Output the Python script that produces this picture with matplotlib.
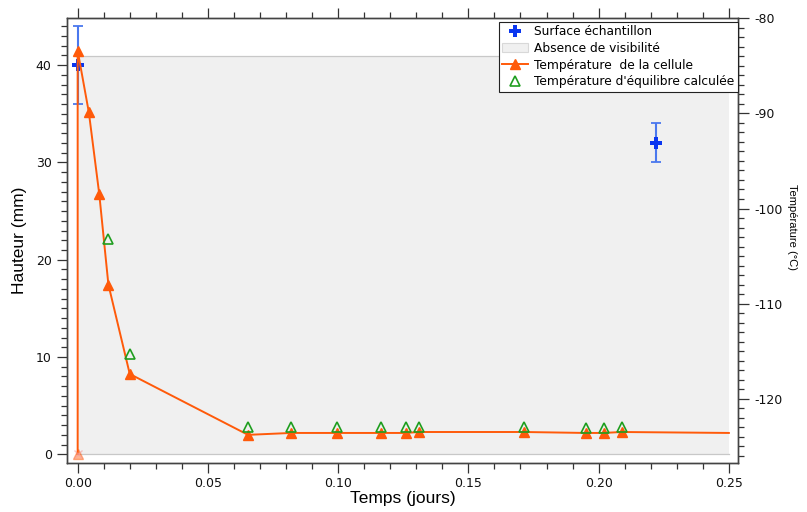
import matplotlib.pyplot as plt
from matplotlib.lines import Line2D
from matplotlib.patches import Patch
from matplotlib.ticker import MultipleLocator

plt.rcParams['font.family'] = ['DejaVu Sans']
plt.rcParams['axes.unicode_minus'] = False

# --- data ---
# sample surface height (mm) with error bars
surf_t = [0.0, 0.2222]
surf_h = [40.0, 32.0]
surf_err = [4.0, 2.0]

# zone without visibility (mm)
vis_t = [0.0, 0.25]
vis_top = [40.9, 40.9]

# cell temperature (degC)
cell_t = [0.0, 0.0, 0.0043, 0.0083, 0.0118, 0.0200, 0.0654, 0.0819, 0.0995,
          0.1163, 0.1260, 0.1310, 0.1713, 0.1950, 0.2019, 0.2088, 0.2500]
cell_T = [-125.8, -83.4, -89.9, -98.5, -108.0, -117.4, -123.8, -123.6, -123.6,
          -123.6, -123.6, -123.5, -123.5, -123.6, -123.6, -123.5, -123.6]

# computed equilibrium temperature (degC)
eq_t = [0.0118, 0.0200, 0.0654, 0.0819, 0.0995, 0.1163, 0.1260, 0.1310,
        0.1713, 0.1950, 0.2019, 0.2088]
eq_T = [-103.2, -115.3, -123.0, -123.0, -123.0, -123.0, -123.0, -122.95,
        -123.0, -123.05, -123.05, -122.95]

orange = '#ff5a0a'
green = '#1f9e1f'
blue = '#0a36f0'
blue_err = '#4a78ee'

fig = plt.figure(figsize=(8.07, 5.12), dpi=100)
ax = fig.add_axes([0.083, 0.0957, 0.8315, 0.8691])

# shaded "no visibility" area, with thin lines on top and bottom only
ax.fill_between(vis_t, 0, vis_top, facecolor='#f0f0f0', linewidth=0, zorder=1)
ax.plot(vis_t, vis_top, color='#c8c8c8', linewidth=0.9, zorder=1.5)
ax.plot(vis_t, [0, 0], color='#c8c8c8', linewidth=0.9, zorder=1.5)

ax.errorbar(surf_t, surf_h, yerr=surf_err, fmt='none', ecolor=blue_err,
            elinewidth=1.5, capsize=3.3, capthick=1.3, zorder=3)
ax.plot(surf_t, surf_h, linestyle='none', marker='P', markersize=9,
        color=blue, markeredgewidth=0, zorder=4)

ax.set_xlim(-0.0041, 0.2535)
ax.set_ylim(-0.894, 44.84)
ax.xaxis.set_major_locator(MultipleLocator(0.05))
ax.xaxis.set_minor_locator(MultipleLocator(0.01))
ax.yaxis.set_major_locator(MultipleLocator(10))
ax.yaxis.set_minor_locator(MultipleLocator(1))
ax.xaxis.set_major_formatter(lambda v, p: f"{v:.2f}")
ax.tick_params(which='both', direction='out', colors='#333333',
               labelsize=9, labelcolor='#111111', top=True, width=0.9)
ax.tick_params(which='major', length=7)
ax.tick_params(which='minor', length=4)
ax.tick_params(axis='x', pad=3)
ax.tick_params(axis='y', pad=4)

ax.set_xlabel('Temps (jours)', fontsize=12.5, family='Liberation Sans', labelpad=1)
ax.set_ylabel('Hauteur (mm)', fontsize=12.5, family='Liberation Sans', labelpad=6)

for s in ax.spines.values():
    s.set_color('#444444')
    s.set_linewidth(1.0)

# temperature axis
ax2 = ax.twinx()
ax2.plot(cell_t, cell_T, color=orange, linewidth=1.4, marker='^',
         markersize=7, markevery=list(range(1, len(cell_t) - 1)), zorder=3)
ax2.plot(cell_t[:1], cell_T[:1], linestyle='none', marker='^', markersize=7,
         color=orange, alpha=0.45, zorder=3)
ax2.plot(cell_t[:1], cell_T[:1], linestyle='none', marker='x', markersize=6,
         color='#f4a0a0', alpha=0.6, zorder=3)
ax2.plot(eq_t, eq_T, linestyle='none', marker='^', markersize=7,
         markerfacecolor='none', markeredgecolor=green, markeredgewidth=1.2,
         zorder=4)

ax2.set_ylim(-126.76, -79.97)
ax2.yaxis.set_major_locator(MultipleLocator(10))
ax2.yaxis.set_minor_locator(MultipleLocator(1))
ax2.tick_params(which='both', direction='out', colors='#333333',
                labelsize=9, labelcolor='#111111', width=0.9)
ax2.tick_params(which='major', length=8, pad=4)
ax2.tick_params(which='minor', length=4)
ax2.set_ylabel('Température (°C)', fontsize=8, family='Liberation Sans',
               rotation=270)
ax2.yaxis.set_label_coords(1.088, 0.53)
for s in ax2.spines.values():
    s.set_color('#444444')
    s.set_linewidth(1.0)

handles = [
    Line2D([], [], linestyle='none', marker='P', markersize=8, color=blue,
           markeredgewidth=0),
    Patch(facecolor='#f0f0f0', edgecolor='#d8d8d8', linewidth=0.8),
    Line2D([], [], color=orange, linewidth=1.4, marker='^', markersize=7),
    Line2D([], [], linestyle='none', marker='^', markersize=7,
           markerfacecolor='none', markeredgecolor=green, markeredgewidth=1.2),
]
labels = ['Surface échantillon', 'Absence de visibilité',
          'Température  de la cellule', "Température d'équilibre calculée"]
leg = ax2.legend(handles, labels, loc='upper right', bbox_to_anchor=(1.0, 0.992),
                 borderaxespad=0, fontsize=8.8, frameon=True, fancybox=False,
                 framealpha=1, edgecolor='#222222', handlelength=2.1,
                 handletextpad=0.5, labelspacing=0.3, borderpad=0.3)
leg.get_frame().set_linewidth(0.8)
leg.set_zorder(10)

fig.savefig('out.png', dpi=100)
